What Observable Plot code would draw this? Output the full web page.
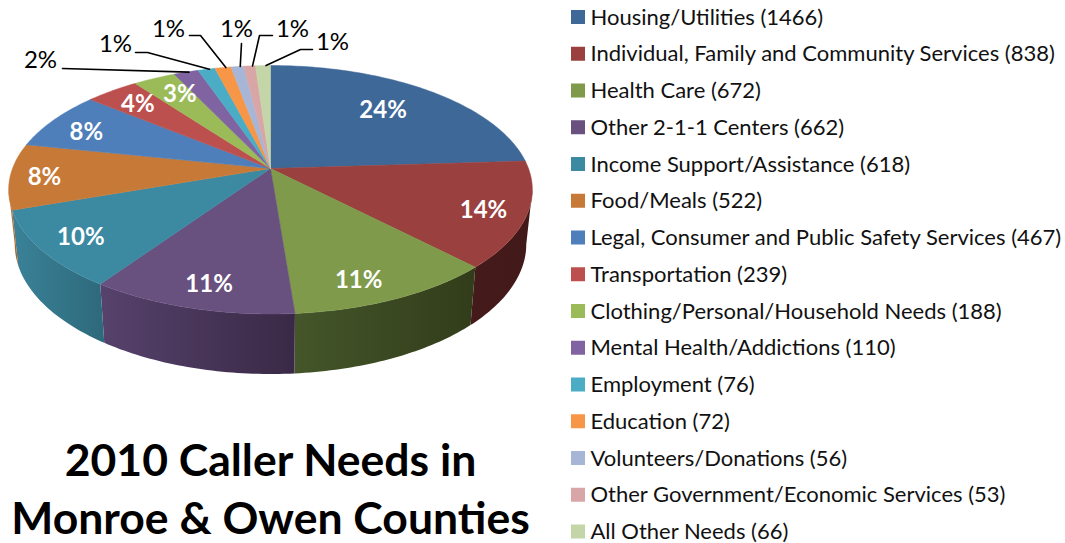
<!DOCTYPE html>
<html>
<head>
<meta charset="utf-8">
<style>html,body{margin:0;padding:0;background:#fff}svg{display:block}</style>
<script src="https://cdn.jsdelivr.net/npm/d3@7"></script>
<script src="https://cdn.jsdelivr.net/npm/@observablehq/plot@0.6"></script>
</head>
<body>
<div id="chart"></div>
<script>
// Caller needs and their counts, in slice order, clockwise from twelve o'clock.
const categories = ["Housing/Utilities", "Individual, Family and Community Services", "Health Care",
  "Other 2-1-1 Centers", "Income Support/Assistance", "Food/Meals",
  "Legal, Consumer and Public Safety Services", "Transportation",
  "Clothing/Personal/Household Needs", "Mental Health/Addictions", "Employment", "Education",
  "Volunteers/Donations", "Other Government/Economic Services", "All Other Needs"];
const counts = [1466, 838, 672, 662, 618, 522, 467, 239, 188, 110, 76, 72, 56, 53, 66];
const percentLabels = ["24%", "14%", "11%", "11%", "10%", "8%", "8%", "4%", "3%", "2%", "1%", "1%", "1%", "1%", "1%"];
const palette = ["#3e6898", "#9a403e", "#7e9a4a", "#68507f", "#3c8aa2", "#c77a38", "#4e7fba", "#bc504e",
  "#9bbb59", "#8064a2", "#4bacc6", "#f79646", "#a7b6d6", "#d8a6a6", "#c4d6a8"];
// Side-wall shading of the front slices, [left colour, right colour], by slice index.
const wallShades = {1: ["#451a1a", "#421919"], 2: ["#44562a", "#323c1a"], 3: ["#56426c", "#3a2946"],
  4: ["#3a8298", "#2e697b"], 5: ["#c47a3c", "#a0602c"]};

// Perspective view of the pie: top rim and lower rim of the disc.
const view = {cx: 270, tilt: 0.171};
const topRim = {cy: 168, a: 258, b: 120.6};
const lowRim = {cy: 221.5, a: 252, b: 126};
const rad = Math.PI / 180;
const project = (deg, rim, r = 1) => {
  const u = Math.sin(deg * rad), v = -Math.cos(deg * rad), d = 1 - view.tilt * v;
  return {x: view.cx + r * rim.a * u / d, y: rim.cy + r * rim.b * v / d};
};

// Slice angles in degrees, accumulated from the counts.
const total = d3.sum(counts);
const cumulative = d3.cumsum(counts);
const slices = categories.map((category, i) => {
  const end = cumulative[i] / total * 360;
  const start = (i ? cumulative[i - 1] : 0) / total * 360;
  return {i, category, count: counts[i], label: percentLabels[i], start, end, mid: (start + end) / 2};
});
const arc = (start, end, rim) => d3.range(0, 1.0001, 1 / Math.max(2, Math.ceil(end - start)))
  .map(t => project(start + t * (end - start), rim));

const tops = slices.flatMap(s => {
  const c = project(0, topRim, 0);
  return [c, ...arc(s.start, s.end, topRim), c].map(p => ({...p, category: s.category}));
});

// Walls are visible only between the two silhouette angles of the tilted disc.
const silhouette = Math.acos(-view.tilt) / rad;
const walls = slices.filter(s => wallShades[s.i]).map(s => {
  const start = Math.max(s.start, silhouette), end = Math.min(s.end, 360 - silhouette);
  return {s, points: [...arc(start, end, topRim), ...arc(start, end, lowRim).reverse()]};
});

// Percent labels inside the pie: a common radius, then a hand adjustment per label.
const insideNudge = [[-10, 3], [13, 6], [-10, 10], [1, 7], [-11, 5], [-23, 3], [-15, 2], [-9, -4], [0, -4]];
const inside = slices.slice(0, 9).map((s, i) => {
  const p = project(s.mid, topRim, 0.78);
  return {label: s.label, x: p.x + insideNudge[i][0], y: p.y + insideNudge[i][1]};
});

// Callouts for the small slices: label position, then the elbow of the leader line.
const calloutLabels = [[40, 60], [115, 44], [168, 29], [236, 29], [292, 29], [332, 42]];
const calloutElbows = [[[62, 68]], [[135, 52], [147, 52]], [[189, 35], [200, 35]], [[241, 43]], [[272, 35], [259, 35]], [[312, 49], [300, 49]]];
const outer = slices.slice(9);
const callouts = outer.map((s, i) => ({label: s.label, x: calloutLabels[i][0], y: calloutLabels[i][1]}));
const leaders = outer.flatMap((s, i) => {
  const end = project(s.mid, topRim);
  return [...calloutElbows[i].map(([x, y]) => ({x, y})), {x: end.x + 3, y: end.y}].map(p => ({...p, id: i}));
});

// Legend rows.
const legendTop = 17, legendStep = 36.75;
const legend = slices.map(s => ({
  category: s.category,
  text: `${s.category} (${s.count})`,
  y: legendTop + s.i * legendStep
}));

const bodyFont = "Lato, 'Open Sans', sans-serif";
const gradients = () => {
  const defs = d3.create("svg:defs");
  walls.forEach(({s}) => {
    const g = defs.append("linearGradient").attr("id", `wall-${s.i}`);
    g.append("stop").attr("offset", "0%").attr("stop-color", wallShades[s.i][0]);
    g.append("stop").attr("offset", "100%").attr("stop-color", wallShades[s.i][1]);
  });
  return defs.node();
};

const chart = Plot.plot({
  width: 1065, height: 543, margin: 0,
  x: {domain: [0, 1065], range: [0, 1065], axis: null},
  y: {domain: [0, 543], range: [0, 543], axis: null},
  color: {type: "ordinal", domain: categories, range: palette},
  style: {background: "#fff"},
  marks: [
    gradients,
    ...walls.map(w => Plot.line(w.points, {x: "x", y: "y", fill: `url(#wall-${w.s.i})`, stroke: "none"})),
    Plot.line(tops, {x: "x", y: "y", z: "category", fill: "category", stroke: "category", strokeWidth: 0.5}),
    Plot.line(leaders, {x: "x", y: "y", z: "id", stroke: "#000", strokeWidth: 1.6}),
    Plot.text(inside, {x: "x", y: "y", text: "label", fill: "#fff", fontSize: 24, fontWeight: 700, fontFamily: bodyFont}),
    Plot.text(callouts, {x: "x", y: "y", text: "label", fill: "#000", fontSize: 24, fontFamily: bodyFont}),
    Plot.rect(legend, {x1: () => 571, x2: () => 585, y1: d => d.y - 7, y2: d => d.y + 7, fill: "category"}),
    Plot.text(legend, {x: () => 590, y: "y", text: "text", textAnchor: "start", fill: "#111", fontSize: 22, fontFamily: bodyFont}),
    Plot.text(["2010 Caller Needs in", "Monroe & Owen Counties"], {
      x: () => 270, y: (d, i) => 461 + i * 58, text: d => d,
      fill: "#000", fontSize: 44.5, fontWeight: 700, fontFamily: bodyFont
    })
  ]
});
document.getElementById("chart").append(chart);
</script>
</body>
</html>
